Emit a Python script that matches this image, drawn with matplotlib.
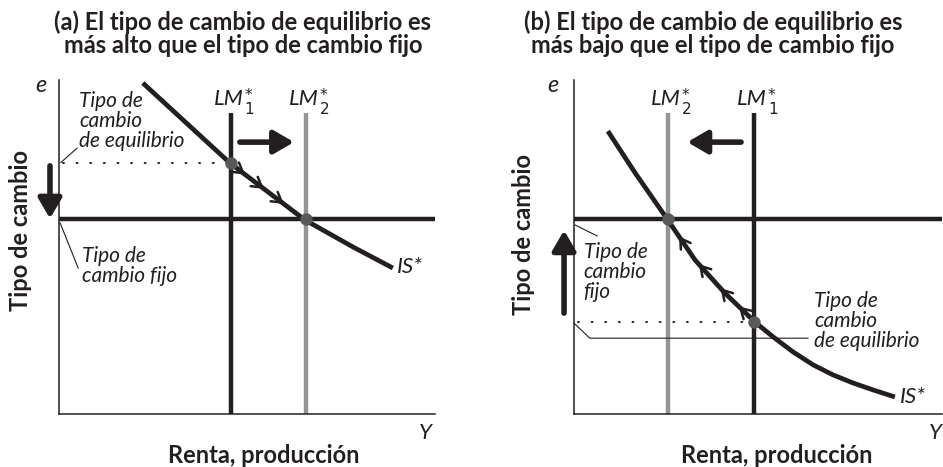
import matplotlib
matplotlib.use("Agg")
import matplotlib.pyplot as plt
import numpy as np

plt.rcParams["font.family"] = ["Lato", "DejaVu Sans"]

INK = "#231f20"
GREY = "#939598"
DOT = "#58595b"

# ---------------------------------------------------------------------------
# Data (schematic units, 0-100 on both axes)
# ---------------------------------------------------------------------------
# panel (a): equilibrium rate above the fixed rate
is_a_x = [22.3, 45.5, 65.4, 78.2, 88.8]
is_a_y = [99.1, 75.1, 58.1, 50.0, 43.7]
lm_a = {"1": 45.7, "2": 65.7}
fixed_a = 58.4
equil_a = 75.1
marks_a = [49.5, 54.5, 59.8]

# panel (b): equilibrium rate below the fixed rate
is_b_x = [9.2, 16.6, 25.3, 32.9, 41.0, 49.2, 54.1, 59.5, 65.0, 70.4, 75.8, 81.3, 87.2]
is_b_y = [84.7, 72.2, 58.4, 46.1, 36.2, 27.5, 23.1, 18.6, 14.7, 11.7, 9.3, 7.2, 5.1]
lm_b = {"1": 48.9, "2": 25.5}
fixed_b = 58.4
equil_b = 27.5
marks_b = [28.5, 33.9, 39.8, 44.8]

LM_TOP = 90.0

TITLES = ["(a) El tipo de cambio de equilibrio es\nmás alto que el tipo de cambio fijo",
          "(b) El tipo de cambio de equilibrio es\nmás bajo que el tipo de cambio fijo"]


def big_arrow(ax, start, end):
    ax.annotate("", xy=end, xytext=start, annotation_clip=False,
                arrowprops=dict(arrowstyle="-|>,head_length=0.6,head_width=0.35",
                                lw=4, color=INK, shrinkA=0, shrinkB=0,
                                mutation_scale=20))


def curve_marks(ax, xs, cx, cy, direction):
    for x in xs:
        x0, x1 = x - direction * 1.5, x
        y0, y1 = np.interp(x0, cx, cy), np.interp(x1, cx, cy)
        ax.annotate("", xy=(x1, y1), xytext=(x0, y0),
                    arrowprops=dict(arrowstyle="->,head_length=0.5,head_width=0.3",
                                    lw=1.8, color=INK, shrinkA=0, shrinkB=0,
                                    mutation_scale=14))


def lm_label(ax, x, sub):
    # "LM" followed by a stacked asterisk / subscript
    y = 92.5
    ax.annotate("LM", xy=(x, y), xytext=(9.5, 0), textcoords="offset points",
                ha="right", va="baseline", fontsize=16, style="italic", color=INK)
    ax.annotate("*\n" + sub, xy=(x, y), xytext=(10.0, 12.0), textcoords="offset points",
                ha="left", va="top", fontsize=11, family="DejaVu Sans",
                linespacing=0.85, color=INK)


def base_axes(ax):
    ax.set_xlim(0, 100)
    ax.set_ylim(0, 100)
    for s in ["top", "right"]:
        ax.spines[s].set_visible(False)
    for s in ["left", "bottom"]:
        ax.spines[s].set_linewidth(1.1)
        ax.spines[s].set_color(INK)
    ax.set_xticks([])
    ax.set_yticks([])
    ax.patch.set_alpha(0)


def common(ax, lm, fixed, equil, isx, isy, marks, direction, dots):
    base_axes(ax)
    ax.vlines(lm["1"], 0, LM_TOP, color=INK, lw=3.2, zorder=2)
    ax.vlines(lm["2"], 0, LM_TOP, color=GREY, lw=3.2, zorder=2)
    ax.hlines(fixed, 0, 100, color=INK, lw=3.2, zorder=2)
    ax.plot([1.0, lm["1"]], [equil, equil], color=INK, lw=1.4,
            linestyle=(0, (0.5, 6.5)), dash_capstyle="round", zorder=2)
    ax.plot(isx, isy, color=INK, lw=3.4, solid_capstyle="butt",
            solid_joinstyle="round", zorder=3)
    curve_marks(ax, marks, isx, isy, direction)
    ax.scatter(dots[0], dots[1], s=80, color=DOT, zorder=4, linewidths=0)
    lm_label(ax, lm["1"], "1")
    lm_label(ax, lm["2"], "2")


fig = plt.figure(figsize=(9.43, 4.67), dpi=100)
W, H = 943, 467
ax_a = fig.add_axes([59 / W, (H - 414) / H, (435 - 59) / W, (414 - 80) / H])
ax_b = fig.add_axes([574 / W, (H - 414) / H, (942 - 574) / W, (414 - 80) / H])

LBL = dict(style="italic", color=INK, fontsize=15, linespacing=1.0)
BOLD = dict(fontweight="bold", color=INK, fontsize=17)

# ---------------------------------------------------------------------------
# Panel (a)
# ---------------------------------------------------------------------------
ax = ax_a
common(ax, lm_a, fixed_a, equil_a, is_a_x, is_a_y, marks_a, 1,
       ([lm_a["1"], lm_a["2"]], [equil_a, fixed_a]))
big_arrow(ax, (48.1, 81.4), (62.5, 81.4))
big_arrow(ax, (-2.4, 74.3), (-2.4, 58.5))

ax.text(-4.8, 98.5, "e", ha="center", va="center", fontsize=17, style="italic", color=INK)
ax.text(5.4, 96.8, "Tipo de\ncambio\nde equilibrio", ha="left", va="top", **LBL)
ax.plot([0.5, 4.8], [75.3, 79.6], color=INK, lw=0.8, clip_on=False)
ax.text(6.0, 50.2, "Tipo de\ncambio fijo", ha="left", va="top", **LBL)
ax.plot([0.3, 5.1], [57.2, 43.7], color=INK, lw=0.8, clip_on=False)
ax.text(90.0, 44.0, "IS*", ha="left", va="center", fontsize=16, style="italic", color=INK)
ax.text(97.3, -5.7, "Y", ha="center", va="center", fontsize=16, style="italic", color=INK)
ax.text(54.5, -12.3, "Renta, producción", ha="center", va="center", **BOLD)
ax.text(-10.2, 54.8, "Tipo de cambio", ha="center", va="center", rotation=90, **BOLD)

# ---------------------------------------------------------------------------
# Panel (b)
# ---------------------------------------------------------------------------
ax = ax_b
common(ax, lm_b, fixed_b, equil_b, is_b_x, is_b_y, marks_b, -1,
       ([lm_b["2"], lm_b["1"]], [fixed_b, equil_b]))
big_arrow(ax, (45.4, 81.4), (30.8, 81.4))
big_arrow(ax, (-2.7, 30.2), (-2.7, 55.0))

ax.text(-5.7, 98.5, "e", ha="center", va="center", fontsize=17, style="italic", color=INK)
ax.text(2.6, 51.5, "Tipo de\ncambio\nfijo", ha="left", va="top", **LBL)
ax.plot([0.3, 6.3], [56.6, 53.3], color=INK, lw=0.8, clip_on=False)
ax.text(65.3, 36.9, "Tipo de\ncambio\nde equilibrio", ha="left", va="top", **LBL)
ax.plot([0, 4.3, 63.6], [27.2, 22.7, 22.7], color=INK, lw=0.8, clip_on=False)
ax.text(88.5, 5.2, "IS*", ha="left", va="center", fontsize=16, style="italic", color=INK)
ax.text(98.1, -5.7, "Y", ha="center", va="center", fontsize=16, style="italic", color=INK)
ax.text(55.2, -12.3, "Renta, producción", ha="center", va="center", **BOLD)
ax.text(-13.6, 53.6, "Tipo de cambio", ha="center", va="center", rotation=90, **BOLD)

# titles
for cx, title in zip([243, 713], TITLES):
    fig.text(cx / W, 1 - 34 / H, title, ha="center", va="center", fontsize=17,
             fontweight="bold", color=INK, linespacing=1.0)

fig.savefig("out.png", dpi=100)
